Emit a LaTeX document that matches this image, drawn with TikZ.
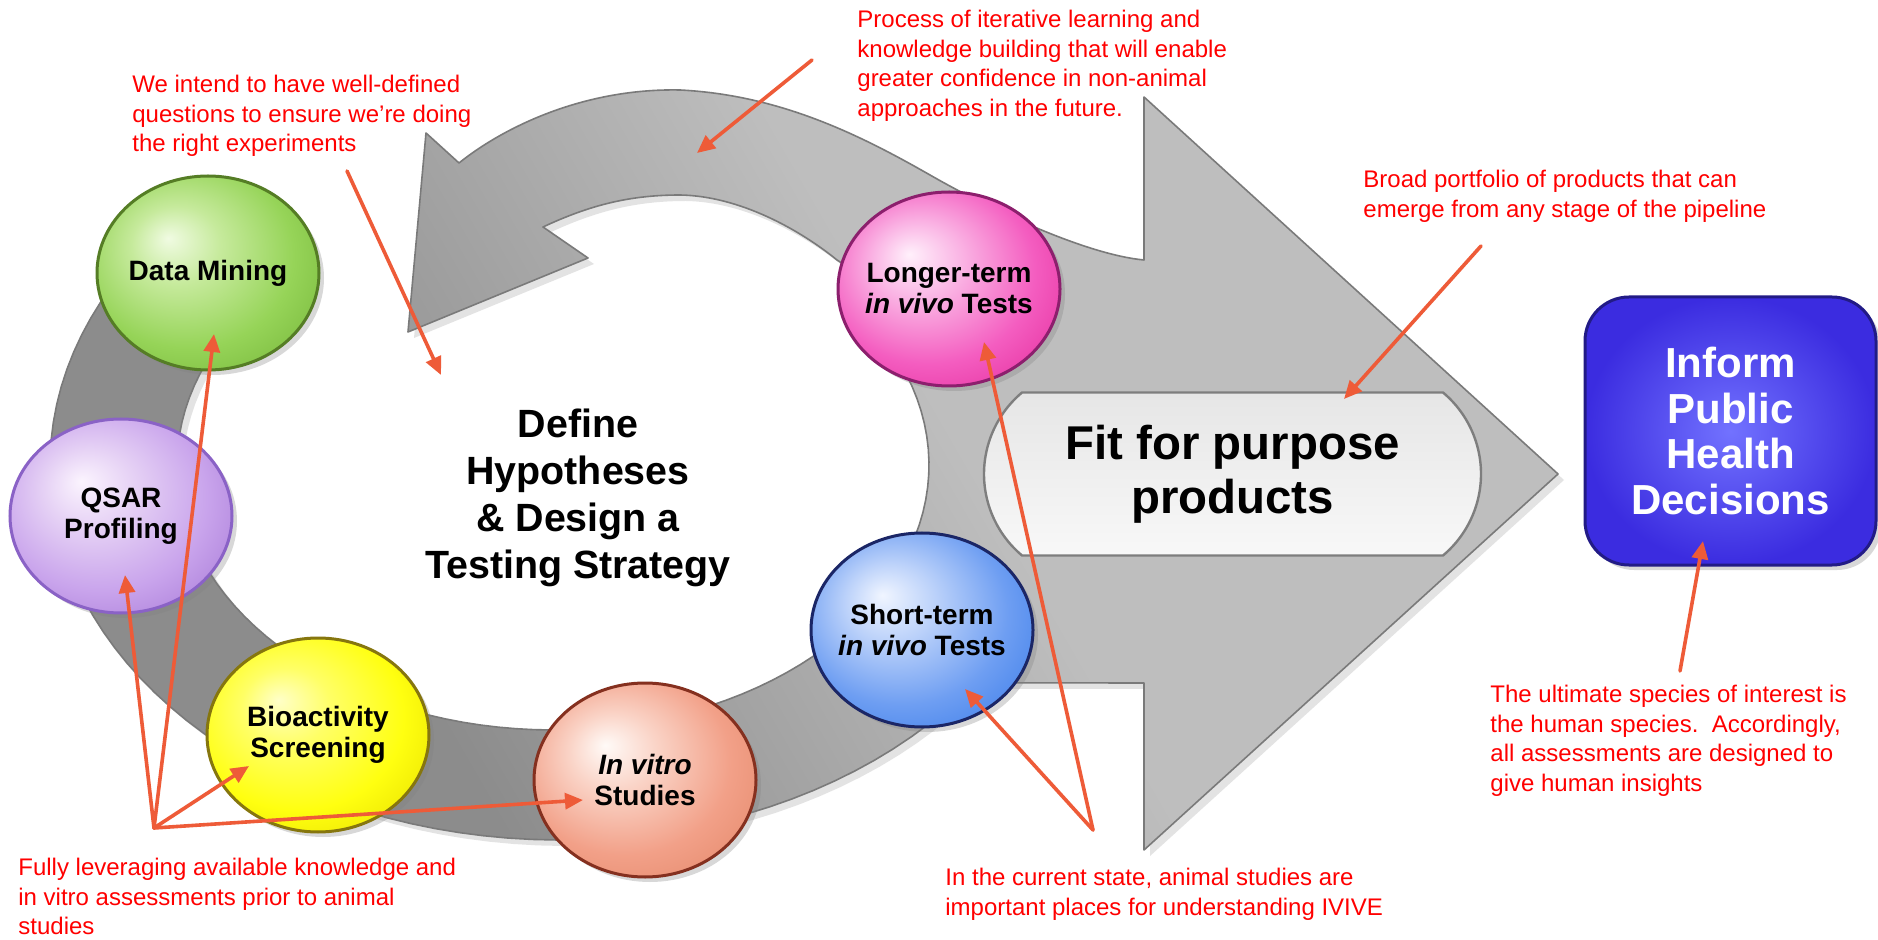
\documentclass[tikz,border=0pt]{standalone}
\usepackage{fontspec}
\setmainfont{Liberation Sans}
\usetikzlibrary{arrows.meta,shadows,shapes.geometric,shapes.misc}

\definecolor{annot}{HTML}{FF0000}
\definecolor{arr}{HTML}{EE5B38}
\definecolor{g1}{HTML}{8C8C8C}
\definecolor{g2}{HTML}{A7A7A7}
\definecolor{g3}{HTML}{BEBEBE}
\definecolor{gedge}{HTML}{7A7A7A}
\definecolor{pillborder}{HTML}{7E7E7E}
\definecolor{pilltop}{HTML}{E6E6E6}
\definecolor{pillbot}{HTML}{F8F8F8}
\definecolor{boxin}{HTML}{7272FF}
\definecolor{boxout}{HTML}{3B2CE0}
\definecolor{boxborder}{HTML}{221B86}

\definecolor{dml}{HTML}{F0FBE2}\definecolor{dmm}{HTML}{C6EA9C}\definecolor{dmc}{HTML}{96D458}\definecolor{dmd}{HTML}{78B83C}\definecolor{dmb}{HTML}{557D25}
\definecolor{ql}{HTML}{FBF4FE}\definecolor{qm}{HTML}{E6D2F5}\definecolor{qc}{HTML}{C9A4EC}\definecolor{qd}{HTML}{A97CD8}\definecolor{qb}{HTML}{8A62C6}
\definecolor{bl}{HTML}{FFFFC8}\definecolor{bm}{HTML}{FFFF66}\definecolor{bc}{HTML}{FFFF10}\definecolor{bd}{HTML}{E8E000}\definecolor{bb}{HTML}{86760E}
\definecolor{vl}{HTML}{FFFAF7}\definecolor{vm}{HTML}{FAD3C6}\definecolor{vc}{HTML}{F2A088}\definecolor{vd}{HTML}{E58A6C}\definecolor{vb}{HTML}{85301F}
\definecolor{sl}{HTML}{F0F5FF}\definecolor{sm}{HTML}{BCD2FA}\definecolor{sc}{HTML}{6E9EF2}\definecolor{sd}{HTML}{3F7FEA}\definecolor{sb}{HTML}{1B2666}
\definecolor{ll}{HTML}{FFF0FB}\definecolor{lm}{HTML}{FAB4E4}\definecolor{lc}{HTML}{F45DC0}\definecolor{ld}{HTML}{E5309F}\definecolor{lb}{HTML}{8C1F6D}

\pgfdeclarehorizontalshading{grayshade}{100bp}{color(0bp)=(g1); color(32bp)=(g1); color(45bp)=(g2); color(56bp)=(g3); color(100bp)=(g3)}
\newcommand\orbshading[5]{\pgfdeclareradialshading{#1}{\pgfpoint{-9bp}{9bp}}{color(0bp)=(#2); color(10bp)=(#3); color(24bp)=(#4); color(36bp)=(#5); color(50bp)=(#5)}}
\orbshading{dmsh}{dml}{dmm}{dmc}{dmd}
\orbshading{qsh}{ql}{qm}{qc}{qd}
\orbshading{bsh}{bl}{bm}{bc}{bd}
\orbshading{vsh}{vl}{vm}{vc}{vd}
\orbshading{ssh}{sl}{sm}{sc}{sd}
\orbshading{lsh}{ll}{lm}{lc}{ld}

\begin{document}
\begin{tikzpicture}[x=0.5pt,y=-0.5pt,
  orb/.style={ellipse, minimum width=111pt, minimum height=97pt, inner sep=0pt, inner xsep=-8pt,
    line width=1.5pt, shade, align=center, font=\bfseries\fontsize{14}{15.5}\selectfont,
    drop shadow={shadow xshift=2.5pt, shadow yshift=-2.5pt, opacity=0.3}},
  note/.style={text=annot, font=\fontsize{12}{14.75}\selectfont, align=left, anchor=north west, inner sep=0pt},
  redarrow/.style={draw=arr, line width=1.8pt, line cap=round, -{Triangle[length=9pt,width=8pt]}}
]
\useasboundingbox (0,0) rectangle (1878,940);
\fill[white] (0,0) rectangle (1878,940);

% gray cycle arrow and big arrow
\path[drop shadow={shadow xshift=3pt, shadow yshift=-3pt, opacity=0.22}, shade, shading=grayshade, shading angle=30,
      draw=gedge, line width=0.8pt, line join=round]
  (287,278) -- plot[domain=135:324.5, samples=70] ({560+510*cos(\x)},{465-375*sin(\x)})
  -- (1144,683) -- (1144,850) -- (1558,474) -- (1144,97) -- (1144,260)
  .. controls (1090,255) and (1000,215) .. (930,175)
  .. controls (860,135) and (780,95) .. (680,90)
  .. controls (580,88) and (500,130) .. (459,163)
  -- (426,133) -- (408,332) -- (588,258) -- (543,227)
  .. controls (590,205) and (630,195) .. (680,195)
  .. controls (740,196) and (800,230) .. (837,260)
  .. controls (872,281) and (880,324) .. (906,374)
  -- plot[domain=20:-225, samples=90] ({553+376*cos(\x)},{465-265*sin(\x)})
  -- cycle;

% orbs
\node[orb, shading=dmsh, draw=dmb] (dm) at (208,273) {Data Mining};
\node[orb, shading=qsh, draw=qb] (qsar) at (121,516) {QSAR\\Profiling};
\node[orb, shading=bsh, draw=bb] (bio) at (318,735) {Bioactivity\\Screening};
\node[orb, shading=vsh, draw=vb] (ivt) at (645,780) {\textit{In vitro}\\Studies};
\node[orb, shading=ssh, draw=sb] (short) at (922,630) {Short-term\\\textit{in vivo} Tests};
\node[orb, shading=lsh, draw=lb] (long) at (949,289) {Longer-term\\\textit{in vivo} Tests};

% center text
\node[font=\bfseries\fontsize{19.7}{23.5}\selectfont, align=center, anchor=north, inner sep=0pt] (hyp) at (578,409)
  {Define\\Hypotheses\\\& Design a\\Testing Strategy};

% fit for purpose pill
\node[rounded rectangle, rounded rectangle arc length=100, minimum width=248.5pt, minimum height=81.5pt,
      draw=pillborder, line width=1.2pt, top color=pilltop, bottom color=pillbot, inner sep=0pt,
      font=\bfseries\fontsize{23.7}{27}\selectfont, align=center] (fit) at (1232.5,474) {Fit for purpose\\products};

% decision box
\node[rectangle, rounded corners=22pt, minimum width=145.5pt, minimum height=134pt, draw=boxborder, line width=1.5pt,
      inner color=boxin, outer color=boxout, text=white, inner sep=0pt,
      font=\bfseries\fontsize{21}{22.8}\selectfont, align=center,
      drop shadow={shadow xshift=2.5pt, shadow yshift=-2.5pt, opacity=0.3}] (ipd) at (1730.5,431)
  {Inform\\Public\\Health\\Decisions};

% notes
\node[note] (n1) at (132,75) {We intend to have well-defined\\questions to ensure we’re doing\\the right experiments};
\node[note] (n2) at (857,10) {Process of iterative learning and\\knowledge building that will enable\\greater confidence in non-animal\\approaches in the future.};
\node[note] (n3) at (1363,170) {Broad portfolio of products that can\\emerge from any stage of the pipeline};
\node[note] (n4) at (1490,685) {The ultimate species of interest is\\the human species.\ \ Accordingly,\\all assessments are designed to\\give human insights};
\node[note] (n5) at (945,868) {In the current state, animal studies are\\important places for understanding IVIVE};
\node[note] (n6) at (18,858) {Fully leveraging available knowledge and\\in vitro assessments prior to animal\\studies};

% arrow endpoints
\coordinate (a1s) at (347,171); \coordinate (a1e) at (441,375);
\coordinate (a2s) at (812,60);  \coordinate (a2e) at (697,153);
\coordinate (a3s) at (1481,246); \coordinate (a3e) at (1344,399);
\coordinate (a4s) at (1680,671); \coordinate (a4e) at (1703,541);
\coordinate (hubR) at (1093,830); \coordinate (eShort) at (965,689); \coordinate (eLong) at (984,342);
\coordinate (hubL) at (154,828); \coordinate (eDM) at (214,334); \coordinate (eQ) at (125,575);
\coordinate (eBio) at (249,766); \coordinate (eIV) at (583,800);

\draw[redarrow] (a1s) -- (a1e);
\draw[redarrow] (a2s) -- (a2e);
\draw[redarrow] (a3s) -- (a3e);
\draw[redarrow] (a4s) -- (a4e);
\draw[redarrow] (hubR) -- (eShort);
\draw[redarrow] (hubR) -- (eLong);
\draw[redarrow] (hubL) -- (eDM);
\draw[redarrow] (hubL) -- (eQ);
\draw[redarrow] (hubL) -- (eBio);
\draw[redarrow] (hubL) -- (eIV);
\end{tikzpicture}
\end{document}
